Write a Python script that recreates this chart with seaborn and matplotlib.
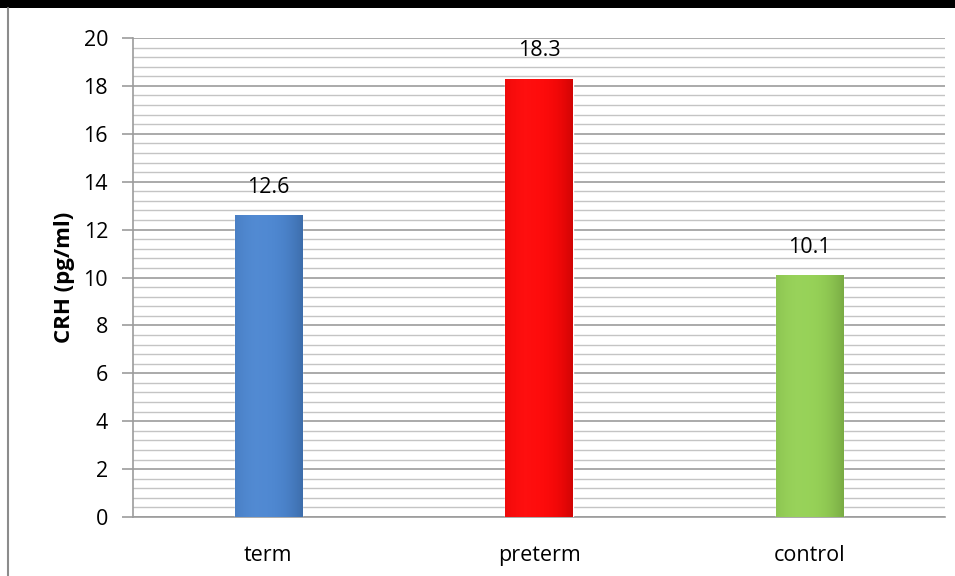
import numpy as np
import pandas as pd
import matplotlib
matplotlib.use("Agg")
import matplotlib.pyplot as plt
from matplotlib.colors import to_rgb
from matplotlib.patches import Rectangle
from matplotlib.lines import Line2D
from matplotlib.ticker import MultipleLocator
import seaborn as sns

groups = ["term", "preterm", "control"]
crh_values = [12.6, 18.3, 10.1]
bar_colors = ["#4783D0", "#FF0000", "#92D050"]
y_ticks = [0, 2, 4, 6, 8, 10, 12, 14, 16, 18, 20]

sns.set_theme(style="white")
plt.rcParams["font.family"] = ["Open Sans", "DejaVu Sans"]
plt.rcParams["text.color"] = "black"
plt.rcParams["axes.labelcolor"] = "black"
plt.rcParams["xtick.color"] = "black"
plt.rcParams["ytick.color"] = "black"

df = pd.DataFrame({"group": groups, "crh": crh_values})

fig = plt.figure(figsize=(9.55, 5.76), dpi=100)
ax = fig.add_axes([0.1393, 0.1024, 0.8502, 0.8316])

sns.barplot(data=df, x="group", y="crh", hue="group", palette=bar_colors,
            width=0.25, ax=ax, legend=False, saturation=1, zorder=3)

ax.set_ylim(0, 20)
ax.set_xlim(-0.5, 2.5)
ax.set_yticks(y_ticks)
ax.yaxis.set_minor_locator(MultipleLocator(0.4))
ax.grid(axis="y", which="major", color="#9C9C9C", linewidth=1.2, zorder=0)
ax.grid(axis="y", which="minor", color="#C4C4C4", linewidth=1.0, zorder=0)
ax.set_axisbelow(True)

for side in ["top", "right"]:
    ax.spines[side].set_visible(False)
for side in ["left", "bottom"]:
    ax.spines[side].set_color("#9C9C9C")
    ax.spines[side].set_linewidth(1.2)

ax.tick_params(axis="y", which="major", length=8, width=1.2, color="#9C9C9C",
               labelcolor="black", labelsize=15.5, pad=10, left=True)
ax.tick_params(axis="y", which="minor", length=0)
ax.tick_params(axis="x", length=0, labelsize=15.5, labelcolor="black", pad=20)
ax.set_xlabel("")
ax.set_ylabel("CRH (pg/ml)", fontsize=16, fontweight="bold", labelpad=6, color="black")

# shaded fill for each bar: dark edges, lighter interior
for patch, col, val in zip(ax.patches, bar_colors, crh_values):
    x0, y0 = patch.get_x(), patch.get_y()
    w, h = patch.get_width(), patch.get_height()
    base = np.array(to_rgb(col))
    n = 64
    t = np.linspace(0, 1, n)
    prof = 1.0 - 0.18 * (np.abs(t - 0.4) / 0.6) ** 2.5
    light = np.clip(base[None, :] * prof[:, None]
                    + 0.06 * (1 - np.abs(t - 0.3))[:, None] * (1 - base)[None, :], 0, 1)
    img = np.tile(light[None, :, :], (2, 1, 1))
    im = ax.imshow(img, extent=[x0, x0 + w, y0, y0 + h], aspect="auto",
                   origin="lower", zorder=3.5, interpolation="bilinear")
    im.set_clip_path(patch)
    ax.text(x0 + w / 2, y0 + h + 1.17, f"{val}", ha="center", va="center",
            fontsize=15.5, color="black", zorder=5)

ax.set_xlim(-0.5, 2.5)
ax.set_ylim(0, 20)

# frame lines of the figure
fig.add_artist(Rectangle((0, 1 - 8 / 576), 1, 8 / 576, transform=fig.transFigure,
                         facecolor="black", edgecolor="none"))
fig.add_artist(Line2D([7.5 / 955, 7.5 / 955], [0, 1 - 8 / 576], transform=fig.transFigure,
                      color="#8C8C8C", linewidth=1.5))

fig.savefig("out.png", dpi=100)
